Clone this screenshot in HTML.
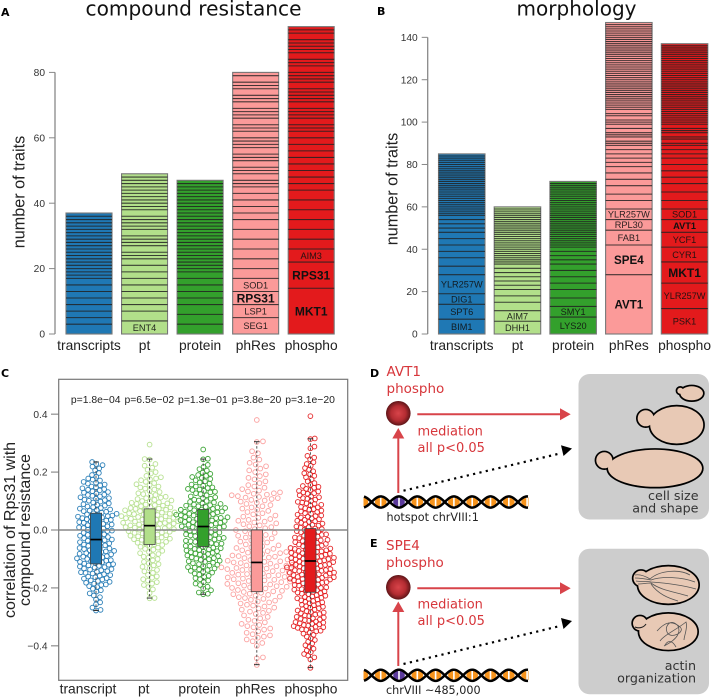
<!DOCTYPE html>
<html lang="en">
<head>
<meta charset="utf-8">
<title>Compound resistance and morphology traits</title>
<style>
html,body{margin:0;padding:0;background:#fff;}
svg{display:block;}
.sans{font-family:"Liberation Sans",Arial,sans-serif;}
.dj{font-family:"DejaVu Sans",Verdana,sans-serif;}
</style>
</head>
<body>
<svg id="fig" width="712" height="697" viewBox="0 0 712 697" xmlns="http://www.w3.org/2000/svg">
  <defs>
    <radialGradient id="ballGrad" cx="50%" cy="50%" r="50%">
      <stop offset="0%" stop-color="#d8444a"/>
      <stop offset="60%" stop-color="#b42c32"/>
      <stop offset="100%" stop-color="#5e1518"/>
    </radialGradient>
  </defs>

  <text class="dj" x="1" y="16" font-size="11" font-weight="bold">A</text>
  <text class="dj" x="377" y="15" font-size="11" font-weight="bold">B</text>
  <text class="dj" x="1" y="377" font-size="11" font-weight="bold">C</text>
  <text class="dj" x="370" y="377" font-size="11" font-weight="bold">D</text>
  <text class="dj" x="370" y="547" font-size="11" font-weight="bold">E</text>

  <text class="dj" x="85.5" y="15.5" font-size="20.5" textLength="216" lengthAdjust="spacingAndGlyphs" fill="#111">compound resistance</text>
  <text class="dj" x="516.5" y="15.5" font-size="20" textLength="120" lengthAdjust="spacingAndGlyphs" fill="#111">morphology</text>

  <text class="sans" transform="translate(24.5,192) rotate(-90)" text-anchor="middle" font-size="16.2" fill="#222">number of traits</text>
  <text class="sans" transform="translate(397.5,189) rotate(-90)" text-anchor="middle" font-size="16.2" fill="#222">number of traits</text>
  <text class="sans" transform="translate(15,530) rotate(-90)" text-anchor="middle" font-size="16" fill="#222">correlation of Rps31 with</text>
  <text class="sans" transform="translate(30,530) rotate(-90)" text-anchor="middle" font-size="16" fill="#222">compound resistance</text>

  <g id="panelA"></g>
  <g id="panelB"></g>
  <g id="panelC"></g>

  <!-- Panel D -->
  <g>
    <rect x="578.5" y="374" width="130.5" height="145.5" rx="11" fill="#cdcdcd"/>
    <text class="dj" x="386.5" y="376" font-size="13.5" fill="#d7363b">AVT1</text>
    <text class="dj" x="386.5" y="393" font-size="13.5" fill="#d7363b">phospho</text>
    <circle cx="398.3" cy="413.3" r="12.3" fill="url(#ballGrad)"/>
    <line x1="398.3" y1="493" x2="398.3" y2="436" stroke="#d8444a" stroke-width="2"/>
    <polygon points="398.3,428 392.3,438.5 404.3,438.5" fill="#d8444a"/>
    <line x1="417.3" y1="414.3" x2="562" y2="414.3" stroke="#d8444a" stroke-width="2"/>
    <polygon points="570.7,414.3 560,408.3 560,420.3" fill="#d8444a"/>
    <text class="dj" x="417.5" y="435.7" font-size="13" fill="#d7363b">mediation</text>
    <text class="dj" x="417.5" y="452" font-size="13" fill="#d7363b">all p&lt;0.05</text>
    <line x1="403.5" y1="490.7" x2="560" y2="453.5" stroke="#000" stroke-width="2.2" stroke-dasharray="2.2 4.3"/>
    <polygon points="572,448.5 561,445.3 563.5,456" fill="#000"/>
    <g id="dna1"></g>
    <text class="dj" x="386.5" y="521" font-size="11.2" fill="#222">hotspot chrVIII:1</text>
    <g fill="#000" stroke="#000" stroke-width="3.4">
      <circle cx="680.3" cy="390.7" r="3"/>
      <ellipse cx="691.7" cy="393.3" rx="11.3" ry="7"/>
      <circle cx="645.7" cy="418.3" r="8"/>
      <ellipse cx="676.7" cy="425" rx="26.5" ry="18.5"/>
      <circle cx="604.3" cy="460.3" r="8"/>
      <ellipse cx="655" cy="468.3" rx="47" ry="18.5"/>
    </g>
    <g fill="#e8c9b5">
      <circle cx="680.3" cy="390.7" r="3"/>
      <ellipse cx="691.7" cy="393.3" rx="11.3" ry="7"/>
      <circle cx="645.7" cy="418.3" r="8"/>
      <ellipse cx="676.7" cy="425" rx="26.5" ry="18.5"/>
      <circle cx="604.3" cy="460.3" r="8"/>
      <ellipse cx="655" cy="468.3" rx="47" ry="18.5"/>
    </g>
    <text class="dj" x="698.5" y="500" text-anchor="end" font-size="12.7" fill="#333">cell size</text>
    <text class="dj" x="698.5" y="512.7" text-anchor="end" font-size="12.7" fill="#333">and shape</text>
  </g>

  <!-- Panel E -->
  <g>
    <rect x="578.5" y="548.7" width="130.5" height="145.5" rx="11" fill="#cdcdcd"/>
    <text class="dj" x="386" y="550" font-size="13.5" fill="#d7363b">SPE4</text>
    <text class="dj" x="386" y="567" font-size="13.5" fill="#d7363b">phospho</text>
    <circle cx="398.3" cy="587.3" r="12.3" fill="url(#ballGrad)"/>
    <line x1="398.3" y1="666" x2="398.3" y2="609" stroke="#d8444a" stroke-width="2"/>
    <polygon points="398.3,601.5 392.3,612 404.3,612" fill="#d8444a"/>
    <line x1="417.3" y1="588.3" x2="562" y2="588.3" stroke="#d8444a" stroke-width="2"/>
    <polygon points="570.7,588.3 560,582.3 560,594.3" fill="#d8444a"/>
    <text class="dj" x="417.5" y="608.5" font-size="13" fill="#d7363b">mediation</text>
    <text class="dj" x="417.5" y="625" font-size="13" fill="#d7363b">all p&lt;0.05</text>
    <line x1="403.5" y1="664" x2="560" y2="626" stroke="#000" stroke-width="2.2" stroke-dasharray="2.2 4.3"/>
    <polygon points="572,621 561,618 563.5,629" fill="#000"/>
    <g id="dna2"></g>
    <text class="dj" x="386" y="694" font-size="11.2" fill="#222">chrVIII ~485,000</text>
    <g fill="#000" stroke="#000" stroke-width="3.4">
      <circle cx="641" cy="578.3" r="7.5"/>
      <ellipse cx="668.3" cy="585" rx="30" ry="18.5"/>
      <circle cx="640" cy="623.3" r="7"/>
      <ellipse cx="668.3" cy="631.7" rx="29" ry="18"/>
    </g>
    <g fill="#e8c9b5">
      <circle cx="641" cy="578.3" r="7.5"/>
      <ellipse cx="668.3" cy="585" rx="30" ry="18.5"/>
      <circle cx="640" cy="623.3" r="7"/>
      <ellipse cx="668.3" cy="631.7" rx="29" ry="18"/>
    </g>
    <g fill="none" stroke="#555" stroke-width="0.8">
      <path d="M635 575 C640 574 645 576 650 579 C660 570 680 569 690 575"/>
      <path d="M635 578 C640 578 646 579 651 580 C662 576 682 577 695 582"/>
      <path d="M636 581 C642 582 647 581 651 582 C665 583 682 585 696 589"/>
      <path d="M638 584 C642 584 647 583 651 583 C660 590 675 592 688 596"/>
      <path d="M651 584 C658 594 668 598 678 601"/>
      <path d="M635 627 C640 629 644 627 646 624" stroke="#222" stroke-width="1.1"/>
      <path d="M657 631 C665 622 672 620 680 627 C686 632 670 640 667 632 C664 625 672 618 678 626 C682 635 672 642 664 646"/>
      <path d="M660 641 C664 635 676 630 686 622 C688 628 684 636 684 640"/>
      <path d="M665 645 C668 640 672 640 676 647"/>
    </g>
    <text class="dj" x="696" y="670" text-anchor="end" font-size="12.7" fill="#333">actin</text>
    <text class="dj" x="696" y="682.3" text-anchor="end" font-size="12.7" fill="#333">organization</text>
  </g>
</svg>

<script>
// ---------- Panel A / B data: stacked trait counts per hotspot gene ----------
const barCategories = ['transcripts','pt','protein','phRes','phospho'];
const swarmCategories = ['transcript','pt','protein','phRes','phospho'];

const aTranscripts = [3,2,2,2,2,2,2,2,1,1,1,1,1,1,1,1,1,1,1,1,1,1,1,1,1,1,1,1];
const aPt = [4,3,2,2,2,2,2,2,2,2,1,1,2,1,1,1,2,1,1,1,1,2,1,1,1,1,1,1,1,1,1,1,1];
const aProtein = [3,3,3,2,2,2,2,2,1,1,1,1,1,1,1,1,1,1,1,1,1,1,1,1,1,1,1,1,1,1,1,1,1,1,1,1];
const aPhRes = [5,4,4,4,3,3,3,3,3,3,2,2,2,2,2,1,1,2,1,1,2,1,1,2,1,1,1,2,1,1,2,1,1,1,2,1,1,2,1,1,2,1];
const aPhospho = [14,8,4,3,3,3,3,3,3,2,2,2,2,2,2,2,2,2,1,1,2,1,1,1,2,1,1,1,1,2,1,1,1,2,1,1,2,1,1,1,1,2,1,1];

const bTranscripts = [7,7,5,9,4,4,3,3,3,3,2,2,2,2,1,1,1,1,1,1,1,1,1,1,1,1,1,1,1,1,1,1,1,1,1,1,1,1,1,1,1,1,1];
const bPt = [6,5,4,3,3,2,2,2,2,2,2,1,1,1,1,1,1,1,1,1,1,1,1,1,1,1,1,1,1,1,1,1,1,1,1,1,1,1];
const bProtein = [8,5,4,4,3,3,3,3,2,2,2,2,1,1,1,1,1,1,1,1,1,1,1,1,1,1,1,1,1,1,1,1,1,1,1,1,1,1,1,1,1,1,1];
const bPhRes = [28,14,7,5,5,4,3,4,3,3,3,2,2,2,2,2,1,1,2,1,1,2,2,1,1,2,1,2,1,1,1,1,1,1,1,1,1,1,1,1,1,1,1,1,1,1,1,1,1,1,1,1,1,1,1,1,1,1,1,1,1,1,1,1,1,1,1,1,1];
const bPhospho = [12,12,10,7,7,6,5,4,4,4,3,3,3,3,2,2,2,1,2,1,2,1,1,2,1,1,1,1,1,1,1,1,1,1,1,1,1,1,1,1,1,1,1,1,1,1,1,1,1,1,1,1,1,1,1,1,1,1,1,1,1,1];

const aNames = [[],['ENT4'],[],['SEG1','LSP1','RPS31','SOD1'],['MKT1','RPS31','AIM3']];
const bNames = [['BIM1','SPT6','DIG1','YLR257W'],['DHH1','AIM7'],['LYS20','SMY1'],['AVT1','SPE4','FAB1','RPL30','YLR257W'],['PSK1','YLR257W','MKT1','CYR1','YCF1','AVT1','SOD1']];
const aBig = ['RPS31','MKT1'];
const bBig = ['AVT1@3','SPE4@3','MKT1@4'];
const aBold = [];
const bBold = ['AVT1@4'];

const aTicks = [0,20,40,60,80];
const bTicks = [0,20,40,60,80,100,120,140];

// ---------- Panel C data ----------
const pLabels = ['p=1.8e\u221204','p=6.5e\u221202','p=1.3e\u221201','p=3.8e\u221220','p=3.1e\u221220'];
const cTicks = [-0.4,-0.2,0,0.2,0.4];
const boxQ1 = [-.117,-.05,-.057,-.213,-.215];
const boxMedian = [-.033,.015,.012,-.112,-.107];
const boxQ3 = [.058,.073,.071,0,.005];
const whiskerHigh = [.235,.245,.245,.305,.315];
const whiskerLow = [-.278,-.235,-.222,-.465,-.475];

const transcriptCorr = [.235,.228,.224,.219,.213,.206,.197,.19,.184,.178,.174,.171,.166,.163,.16,.157,.154,.15,.147,.144,.141,.139,.137,.134,.131,.129,.126,.122,.121,.118,.116,.113,.11,.108,.105,.103,.101,.098,.095,.092,.089,.087,.084,.081,.079,.076,.074,.071,.069,.067,.065,.063,.06,.058,.056,.054,.052,.05,.048,.046,.045,.043,.041,.039,.037,.035,.033,.031,.029,.027,.025,.023,.021,.019,.017,.015,.013,.011,.009,.007,.005,.003,.001,-.002,-.004,-.006,-.008,-.01,-.013,-.015,-.017,-.02,-.022,-.024,-.026,-.028,-.03,-.033,-.035,-.037,-.039,-.042,-.044,-.046,-.048,-.05,-.053,-.055,-.057,-.06,-.062,-.064,-.066,-.068,-.07,-.072,-.074,-.076,-.078,-.08,-.082,-.084,-.086,-.088,-.09,-.092,-.094,-.096,-.098,-.1,-.102,-.104,-.106,-.108,-.11,-.112,-.114,-.116,-.118,-.12,-.122,-.124,-.126,-.128,-.13,-.133,-.135,-.137,-.139,-.142,-.144,-.146,-.148,-.15,-.153,-.156,-.158,-.161,-.163,-.166,-.168,-.171,-.174,-.176,-.179,-.182,-.185,-.188,-.19,-.194,-.197,-.203,-.208,-.213,-.219,-.226,-.232,-.24,-.25,-.257,-.268,-.276,-.278];
const ptCorr = [.295,.245,.243,.228,.222,.215,.208,.2,.195,.187,.182,.178,.175,.172,.166,.162,.158,.155,.15,.147,.143,.14,.135,.131,.127,.124,.121,.118,.115,.112,.11,.107,.104,.102,.1,.098,.096,.094,.092,.09,.088,.086,.084,.082,.08,.078,.076,.074,.073,.071,.07,.068,.066,.065,.063,.061,.06,.058,.056,.055,.053,.052,.05,.048,.047,.045,.044,.042,.041,.039,.038,.036,.035,.033,.032,.03,.029,.027,.025,.024,.022,.021,.019,.018,.016,.014,.013,.011,.01,.008,.006,.005,.003,.001,0,-.002,-.004,-.006,-.008,-.01,-.012,-.014,-.016,-.018,-.02,-.022,-.024,-.026,-.028,-.03,-.032,-.034,-.037,-.039,-.041,-.044,-.046,-.049,-.052,-.055,-.058,-.061,-.065,-.068,-.072,-.076,-.08,-.083,-.087,-.092,-.096,-.1,-.105,-.11,-.115,-.118,-.122,-.127,-.132,-.138,-.143,-.148,-.155,-.16,-.165,-.17,-.175,-.18,-.185,-.19,-.197,-.205,-.218,-.235,-.236];
const proteinCorr = [.278,.246,.244,.225,.218,.21,.205,.198,.194,.19,.187,.183,.18,.176,.172,.168,.164,.16,.157,.153,.15,.147,.145,.142,.14,.138,.135,.132,.13,.127,.124,.12,.116,.113,.11,.108,.105,.102,.1,.097,.095,.092,.09,.088,.086,.084,.082,.08,.078,.076,.075,.073,.071,.07,.068,.066,.064,.063,.061,.06,.058,.056,.055,.053,.051,.05,.048,.047,.045,.044,.042,.041,.039,.038,.036,.034,.033,.031,.03,.028,.027,.025,.023,.022,.02,.018,.017,.015,.013,.012,.01,.008,.006,.005,.003,.001,-.001,-.003,-.005,-.007,-.009,-.011,-.013,-.015,-.017,-.019,-.021,-.023,-.025,-.027,-.029,-.031,-.033,-.035,-.037,-.039,-.041,-.043,-.045,-.047,-.049,-.051,-.053,-.055,-.057,-.059,-.061,-.063,-.065,-.067,-.069,-.071,-.073,-.075,-.077,-.079,-.081,-.083,-.085,-.088,-.09,-.092,-.094,-.097,-.099,-.101,-.103,-.106,-.108,-.11,-.113,-.115,-.118,-.12,-.123,-.125,-.128,-.13,-.133,-.136,-.138,-.141,-.144,-.147,-.15,-.154,-.158,-.162,-.166,-.17,-.175,-.18,-.185,-.19,-.196,-.202,-.208,-.216,-.22,-.222];
const phResCorr = [.38,.306,.304,.272,.265,.25,.243,.232,.226,.22,.212,.206,.2,.192,.186,.18,.175,.168,.162,.155,.15,.146,.141,.136,.133,.13,.127,.125,.122,.12,.117,.114,.112,.11,.107,.104,.102,.098,.094,.09,.086,.082,.078,.074,.07,.066,.062,.058,.054,.05,.046,.042,.038,.035,.032,.029,.026,.023,.02,.016,.013,.01,.006,.003,0,-.004,-.007,-.01,-.013,-.017,-.02,-.023,-.026,-.029,-.033,-.036,-.04,-.043,-.046,-.05,-.053,-.056,-.06,-.062,-.065,-.068,-.07,-.073,-.076,-.078,-.08,-.083,-.086,-.088,-.09,-.092,-.095,-.097,-.1,-.102,-.104,-.106,-.108,-.11,-.112,-.114,-.116,-.118,-.12,-.122,-.123,-.125,-.127,-.129,-.131,-.133,-.135,-.136,-.138,-.14,-.142,-.144,-.146,-.148,-.15,-.152,-.154,-.156,-.158,-.16,-.162,-.164,-.166,-.168,-.17,-.172,-.174,-.176,-.178,-.18,-.182,-.184,-.186,-.188,-.19,-.192,-.194,-.196,-.198,-.2,-.202,-.205,-.207,-.21,-.212,-.214,-.217,-.22,-.222,-.224,-.227,-.23,-.232,-.235,-.238,-.241,-.244,-.247,-.25,-.254,-.258,-.261,-.264,-.268,-.271,-.275,-.279,-.282,-.286,-.29,-.295,-.3,-.305,-.31,-.314,-.319,-.324,-.328,-.332,-.336,-.34,-.344,-.35,-.355,-.36,-.364,-.368,-.372,-.378,-.384,-.39,-.4,-.44,-.443,-.466];
const phosphoCorr = [.393,.316,.314,.288,.282,.256,.25,.244,.234,.228,.222,.214,.208,.203,.196,.192,.187,.182,.175,.168,.162,.156,.152,.149,.146,.142,.138,.135,.133,.13,.127,.125,.12,.116,.113,.11,.108,.105,.1,.097,.095,.092,.09,.087,.085,.08,.078,.075,.072,.07,.067,.064,.062,.058,.056,.053,.05,.048,.046,.043,.04,.037,.035,.032,.03,.028,.025,.022,.02,.018,.015,.012,.01,.008,.005,.003,.001,-.002,-.004,-.006,-.008,-.01,-.013,-.015,-.017,-.019,-.021,-.023,-.026,-.028,-.03,-.032,-.034,-.036,-.038,-.04,-.042,-.044,-.046,-.048,-.05,-.052,-.054,-.056,-.058,-.06,-.062,-.064,-.065,-.067,-.068,-.07,-.072,-.074,-.075,-.077,-.079,-.08,-.082,-.083,-.085,-.086,-.088,-.09,-.091,-.093,-.094,-.096,-.097,-.099,-.1,-.102,-.103,-.105,-.106,-.108,-.109,-.111,-.112,-.114,-.115,-.117,-.118,-.12,-.121,-.123,-.124,-.126,-.127,-.129,-.13,-.132,-.133,-.135,-.136,-.138,-.139,-.141,-.142,-.144,-.145,-.147,-.148,-.15,-.151,-.153,-.154,-.156,-.157,-.159,-.16,-.162,-.163,-.165,-.166,-.168,-.169,-.171,-.172,-.174,-.175,-.177,-.178,-.18,-.182,-.184,-.186,-.188,-.19,-.192,-.194,-.196,-.198,-.2,-.202,-.204,-.206,-.208,-.21,-.212,-.214,-.216,-.218,-.22,-.222,-.225,-.227,-.229,-.231,-.234,-.236,-.238,-.24,-.243,-.245,-.248,-.25,-.253,-.255,-.258,-.26,-.263,-.265,-.268,-.27,-.273,-.275,-.278,-.28,-.283,-.285,-.288,-.29,-.292,-.295,-.297,-.3,-.302,-.305,-.307,-.309,-.311,-.313,-.316,-.318,-.32,-.322,-.324,-.326,-.328,-.33,-.332,-.334,-.336,-.338,-.34,-.343,-.345,-.348,-.35,-.354,-.358,-.362,-.368,-.374,-.38,-.386,-.392,-.398,-.404,-.41,-.416,-.422,-.428,-.434,-.44,-.447,-.476];

const seriesColors = ['#1f78b4','#b2df8a','#33a02c','#fb9a99','#e31a1c'];

const NS = 'http://www.w3.org/2000/svg';
function mk(parent, tag, attrs, txt) {
  const el = document.createElementNS(NS, tag);
  for (const k in attrs) el.setAttribute(k, attrs[k]);
  if (txt !== undefined) el.textContent = txt;
  parent.appendChild(el);
  return el;
}
const SANS = '"Liberation Sans",Arial,sans-serif';

function drawBars(panel, id, series, names, ticks, bigList, boldList, cfg) {
  const g = document.getElementById(id);
  const yScale = v => cfg.y0 - v * cfg.unit;
  const xScale = i => cfg.x0 + i * cfg.step;
  // axis
  const axis = mk(g, 'line', {x1:cfg.axisX, x2:cfg.axisX, y1:yScale(ticks[0]), y2:yScale(ticks[ticks.length-1]), stroke:'#888', 'stroke-width':1.3});
  
  
  ticks.forEach(t => {
    const tk = mk(g, 'line', {x1:cfg.axisX-6, x2:cfg.axisX, y1:yScale(t), y2:yScale(t), stroke:'#888', 'stroke-width':1});
    
    
    const lb = mk(g, 'text', {x:cfg.axisX-10, y:yScale(t)+3.6, 'text-anchor':'end', 'font-size':10.2, 'font-family':SANS, fill:'#333'}, String(t));
    
    
  });
  series.forEach((segs, i) => {
    const total = segs.reduce((a, b) => a + b, 0);
    const x = xScale(i);
    const bar = mk(g, 'rect', {x:x, y:yScale(total), width:cfg.width, height:total*cfg.unit, fill:seriesColors[i], stroke:'#777', 'stroke-width':1.1});
    
    
    let cum = 0;
    segs.forEach((s, j) => {
      const lo = cum;
      cum += s;
      if (cum < total) {
        const sep = mk(g, 'line', {x1:x, x2:x+cfg.width, y1:yScale(cum), y2:yScale(cum), stroke:'#222', 'stroke-width':1.05, 'stroke-opacity':0.85});
        
        
      }
      const nm = names[i][j];
      if (nm) {
        const key = nm + '@' + i;
        const big = bigList.includes(nm) || bigList.includes(key);
        const bold = big || boldList.includes(key);
        const fs = big ? (nm === 'RPS31' || nm === 'MKT1' ? 12 : 11.6) : 9.2;
        const t = mk(g, 'text', {x:x+cfg.width/2, y:yScale((lo+cum)/2)+fs*0.36, 'text-anchor':'middle', 'font-size':fs, 'font-weight':bold?'bold':'normal', 'font-family':SANS, fill:'#111', 'fill-opacity':bold?1:0.9}, nm);
        
        
      }
    });
    const cat = mk(g, 'text', {x:x+cfg.width/2, y:350, 'text-anchor':'middle', 'font-size':13.8, 'font-family':SANS, fill:'#222'}, barCategories[i]);
    
    
  });
}

drawBars('a', 'panelA', [aTranscripts,aPt,aProtein,aPhRes,aPhospho], aNames, aTicks, aBig, aBold, {y0:334, unit:3.27, x0:66, step:55.55, width:46, axisX:55});
drawBars('b', 'panelB', [bTranscripts,bPt,bProtein,bPhRes,bPhospho], bNames, bTicks, bBig, bBold, {y0:334, unit:2.119, x0:438.5, step:55.7, width:46.5, axisX:427.7});

// ---------- Panel C ----------
const corrSeries = [transcriptCorr, ptCorr, proteinCorr, phResCorr, phosphoCorr];
(function () {
  const g = document.getElementById('panelC');
  const yC = v => 530 - v * 289.6;
  const xC = i => 96 + i * 53.6;
  const labelX = i => 88 + i * 55.75;
  const pX = i => 95.7 + i * 53.6;
  const swarmGap = [4.6, 5, 4.7, 6.2, 4.4];
  const frame = mk(g, 'rect', {x:58.7, y:379.3, width:289, height:301, fill:'none', stroke:'#777', 'stroke-width':1.2});
  
  
  cTicks.forEach(t => {
    const tk = mk(g, 'line', {x1:51, x2:58.7, y1:yC(t), y2:yC(t), stroke:'#777', 'stroke-width':1});
    
    
    const s = (t < 0 ? '\u2212' : '') + Math.abs(t).toFixed(1);
    const lb = mk(g, 'text', {x:47.5, y:yC(t)+3.6, 'text-anchor':'end', 'font-size':10.2, 'font-family':SANS, fill:'#333'}, s);
    
    
  });
  corrSeries.forEach((vals, i) => {
    const D = swarmGap[i];
    const sorted = vals.slice().sort((a, b) => a - b);
    const placed = [];
    sorted.forEach(v => {
      const py = yC(v);
      const near = placed.filter(p => Math.abs(p.y - py) < D);
      const cand = [0];
      near.forEach(p => {
        const dx = Math.sqrt(D * D - (p.y - py) * (p.y - py));
        cand.push(p.o + dx, p.o - dx);
      });
      const ok = cand.filter(c => near.every(p => (p.o - c) * (p.o - c) + (p.y - py) * (p.y - py) >= D * D - 1e-6));
      ok.sort((a, b) => Math.abs(a) - Math.abs(b));
      const o = ok[0];
      placed.push({y: py, o: o});
      const c = mk(g, 'circle', {cx:xC(i)+o, cy:py, r:2.35, fill:'none', stroke:seriesColors[i], 'stroke-width':0.95, 'stroke-opacity':0.9});
      
      
    });
  });
  const zero = mk(g, 'line', {x1:58.7, x2:347.7, y1:yC(0), y2:yC(0), stroke:'#888', 'stroke-width':1.6});
  
  
  swarmCategories.forEach((name, i) => {
    const cx = xC(i);
    const w1 = mk(g, 'line', {x1:cx, x2:cx, y1:yC(whiskerHigh[i]), y2:yC(boxQ3[i]), stroke:'#444', 'stroke-width':0.9, 'stroke-dasharray':'2.5 2'});
    
    
    const w2 = mk(g, 'line', {x1:cx, x2:cx, y1:yC(boxQ1[i]), y2:yC(whiskerLow[i]), stroke:'#444', 'stroke-width':0.9, 'stroke-dasharray':'2.5 2'});
    
    
    const c1 = mk(g, 'line', {x1:cx-2.8, x2:cx+2.8, y1:yC(whiskerHigh[i]), y2:yC(whiskerHigh[i]), stroke:'#333', 'stroke-width':1});
    
    
    const c2 = mk(g, 'line', {x1:cx-2.8, x2:cx+2.8, y1:yC(whiskerLow[i]), y2:yC(whiskerLow[i]), stroke:'#333', 'stroke-width':1});
    
    
    const box = mk(g, 'rect', {x:cx-5.6, y:yC(boxQ3[i]), width:11.2, height:yC(boxQ1[i])-yC(boxQ3[i]), fill:seriesColors[i], stroke:'#444', 'stroke-width':0.8});
    
    
    const med = mk(g, 'line', {x1:cx-5.6, x2:cx+5.6, y1:yC(boxMedian[i]), y2:yC(boxMedian[i]), stroke:'#000', 'stroke-width':1.7});
    
    
    const pl = mk(g, 'text', {x:pX(i), y:403, 'text-anchor':'middle', 'font-size':10.4, 'font-family':SANS, fill:'#222'}, pLabels[i]);
    
    
    const cat = mk(g, 'text', {x:labelX(i), y:693.5, 'text-anchor':'middle', 'font-size':13.8, 'font-family':SANS, fill:'#222'}, name);
    
    
  });
})();

// ---------- DNA helix decoration ----------
function drawDna(id, cy) {
  const g = document.getElementById(id);
  const P = 18.3, cx0 = 399, A = 5.6, xa = 364, xb = 528;
  for (let k = -2; k <= 7; k++) {
    const cx = cx0 + k * P;
    const orange = k === 0 ? '#5b3a9c' : '#f7941d';
    const lens = mk(g, 'ellipse', {cx:cx, cy:cy, rx:5.8, ry:4.8, fill:orange});
    
    
    const mid = mk(g, 'rect', {x:cx-0.8, y:cy-4.7, width:1.6, height:9.4, fill:'#fff'});
    
    
  }
  [1, -1].forEach(sign => {
    let d = '';
    for (let x = xa; x <= xb; x += 1) {
      const y = cy + sign * A * Math.cos(Math.PI * (x - cx0) / P);
      d += (d ? 'L' : 'M') + x + ' ' + y.toFixed(2);
    }
    const s = mk(g, 'path', {d:d, fill:'none', stroke:'#000', 'stroke-width':2.5});
    
    
  });
  const maskL = mk(g, 'rect', {x:350, y:cy-9, width:13.5, height:18, fill:'#fff'});
  
  
  const maskR = mk(g, 'rect', {x:528.5, y:cy-9, width:8, height:18, fill:'#fff'});
  
  
}
drawDna('dna1', 502);
drawDna('dna2', 675.3);
</script>
</body>
</html>
